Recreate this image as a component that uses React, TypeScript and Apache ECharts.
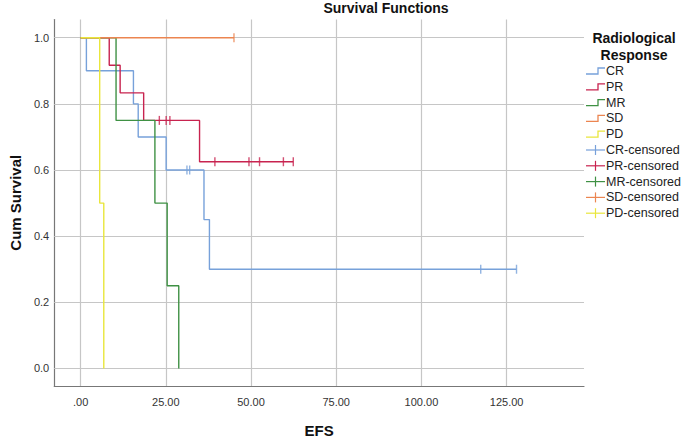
import React, { useEffect, useRef } from "react";
import * as echarts from "echarts";

// ---- data ----
const crTimes = [0, 1.7, 15.5, 16.9, 25.1, 36.2, 37.8, 127.9];
const crSurv = [1, 0.9, 0.8, 0.7, 0.6, 0.45, 0.3, 0.3];
const crCensTimes = [31.2, 32.0, 117.4, 127.9];
const crCensSurv = [0.6, 0.6, 0.3, 0.3];

const prTimes = [0, 8.4, 11.6, 18.5, 34.9, 62.4];
const prSurv = [1, 0.9167, 0.8333, 0.75, 0.625, 0.625];
const prCensTimes = [23.1, 25.1, 26.2, 39.4, 49.4, 52.5, 59.5, 62.4];
const prCensSurv = [0.75, 0.75, 0.75, 0.625, 0.625, 0.625, 0.625, 0.625];

const mrTimes = [0, 10.4, 21.8, 25.4, 28.8];
const mrSurv = [1, 0.75, 0.5, 0.25, 0];
const mrCensTimes: number[] = [];
const mrCensSurv: number[] = [];

const sdTimes = [0, 45.0];
const sdSurv = [1, 1];
const sdCensTimes = [45.0];
const sdCensSurv = [1];

const pdTimes = [0, 5.6, 6.8];
const pdSurv = [1, 0.5, 0];
const pdCensTimes: number[] = [];
const pdCensSurv: number[] = [];

const groupNames = ["CR", "PR", "MR", "SD", "PD"];
const groupColors = ["#77a1da", "#c8234f", "#3f9144", "#ec8550", "#e9e63c"];
const xTicks = [0, 25, 50, 75, 100, 125];
const yTicks = [0, 0.2, 0.4, 0.6, 0.8, 1.0];

const FONT = "'Liberation Sans', Arial, sans-serif";

const zip = (a: number[], b: number[]) => a.map((v, i) => [v, b[i]]);

export default function App() {
  const ref = useRef<HTMLDivElement>(null);
  useEffect(() => {
    if (!ref.current) return;
    const chart = echarts.init(ref.current, undefined, { renderer: "svg" });
    const curves = [
      [crTimes, crSurv, crCensTimes, crCensSurv],
      [prTimes, prSurv, prCensTimes, prCensSurv],
      [mrTimes, mrSurv, mrCensTimes, mrCensSurv],
      [sdTimes, sdSurv, sdCensTimes, sdCensSurv],
      [pdTimes, pdSurv, pdCensTimes, pdCensSurv],
    ];
    const gridColor = "#c6c6c6";
    const series: any[] = [
      {
        type: "line",
        name: "grid",
        data: [],
        silent: true,
        z: 1,
        markLine: {
          silent: true,
          z: 1,
          symbol: "none",
          label: { show: false },
          lineStyle: { color: gridColor, width: 1.2, type: "solid" },
          data: [
            ...xTicks.map((v) => ({ xAxis: v })),
            ...yTicks.map((v) => ({ yAxis: v })),
          ],
        },
      },
    ];
    curves.forEach((c, i) => {
      series.push({
        type: "line",
        name: groupNames[i],
        step: "end",
        data: zip(c[0], c[1]),
        showSymbol: false,
        symbol: "none",
        lineStyle: { color: groupColors[i], width: 1.4 },
        itemStyle: { color: groupColors[i] },
        z: 10,
      });
    });
    curves.forEach((c, i) => {
      series.push({
        type: "scatter",
        name: groupNames[i] + "-censored",
        data: zip(c[2], c[3]),
        symbol: "rect",
        symbolSize: [1.4, 9],
        itemStyle: { color: groupColors[i] },
        z: 11,
      });
    });

    // legend drawn manually
    const lx = 586;
    const ly0 = 71;
    const step = 15.8;
    const legendEls: any[] = [
      {
        type: "text",
        x: 634,
        y: 38,
        style: { text: "Radiological", font: `bold 14px ${FONT}`, fill: "#111", align: "center", verticalAlign: "middle" },
      },
      {
        type: "text",
        x: 634,
        y: 55,
        style: { text: "Response", font: `bold 14px ${FONT}`, fill: "#111", align: "center", verticalAlign: "middle" },
      },
    ];
    groupNames.forEach((n, i) => {
      const y = ly0 + i * step;
      legendEls.push({
        type: "polyline",
        shape: { points: [[lx, y + 3], [lx + 12, y + 3], [lx + 12, y - 3], [lx + 19, y - 3]] },
        style: { stroke: groupColors[i], lineWidth: 1.3, fill: "none" },
      });
      legendEls.push({
        type: "text",
        x: lx + 20,
        y,
        style: { text: n, font: `12.5px ${FONT}`, fill: "#222", verticalAlign: "middle" },
      });
    });
    groupNames.forEach((n, i) => {
      const y = ly0 + (i + 5) * step;
      legendEls.push({
        type: "line",
        shape: { x1: lx, y1: y, x2: lx + 19, y2: y },
        style: { stroke: groupColors[i], lineWidth: 1.2 },
      });
      legendEls.push({
        type: "line",
        shape: { x1: lx + 9.5, y1: y - 5, x2: lx + 9.5, y2: y + 5 },
        style: { stroke: groupColors[i], lineWidth: 1.2 },
      });
      legendEls.push({
        type: "text",
        x: lx + 20,
        y,
        style: { text: n + "-censored", font: `12.5px ${FONT}`, fill: "#222", verticalAlign: "middle" },
      });
    });

    chart.setOption({
      animation: false,
      backgroundColor: "#ffffff",
      textStyle: { fontFamily: FONT },
      title: {
        text: "Survival Functions",
        left: 386,
        top: 1,
        padding: 0,
        textAlign: "center",
        textStyle: { fontFamily: FONT, fontSize: 14, fontWeight: "bold", color: "#111" },
      },
      grid: { left: 48, right: 101, top: 19.5, bottom: 46.3, containLabel: false },
      xAxis: {
        type: "value",
        min: -7.75,
        max: 147.7,
        name: "EFS",
        nameLocation: "middle",
        nameGap: 37,
        nameTextStyle: { fontFamily: FONT, fontSize: 15, fontWeight: "bold", color: "#111" },
        axisLine: { onZero: false, lineStyle: { color: "#777", width: 1.2 } },
        axisTick: { show: false },
        splitLine: { show: false },
        axisLabel: {
          customValues: xTicks,
          margin: 10,
          fontSize: 11,
          color: "#333",
          fontFamily: FONT,
          formatter: (v: number) => (v === 0 ? ".00" : v.toFixed(2)),
        },
      },
      yAxis: {
        type: "value",
        min: -0.053,
        max: 1.055,
        name: "Cum Survival",
        nameLocation: "middle",
        nameGap: 27,
        nameTextStyle: { fontFamily: FONT, fontSize: 15, fontWeight: "bold", color: "#111" },
        axisLine: { show: true, onZero: false, lineStyle: { color: "#777", width: 1.2 } },
        axisTick: { show: false },
        splitLine: { show: false },
        axisLabel: {
          customValues: yTicks,
          margin: 5,
          fontSize: 11,
          color: "#333",
          fontFamily: FONT,
          formatter: (v: number) => v.toFixed(1),
        },
      },
      graphic: legendEls,
      series,
    });
    return () => chart.dispose();
  }, []);
  return <div ref={ref} style={{ width: 685, height: 443, position: "absolute", left: 0, top: 0 }} />;
}
